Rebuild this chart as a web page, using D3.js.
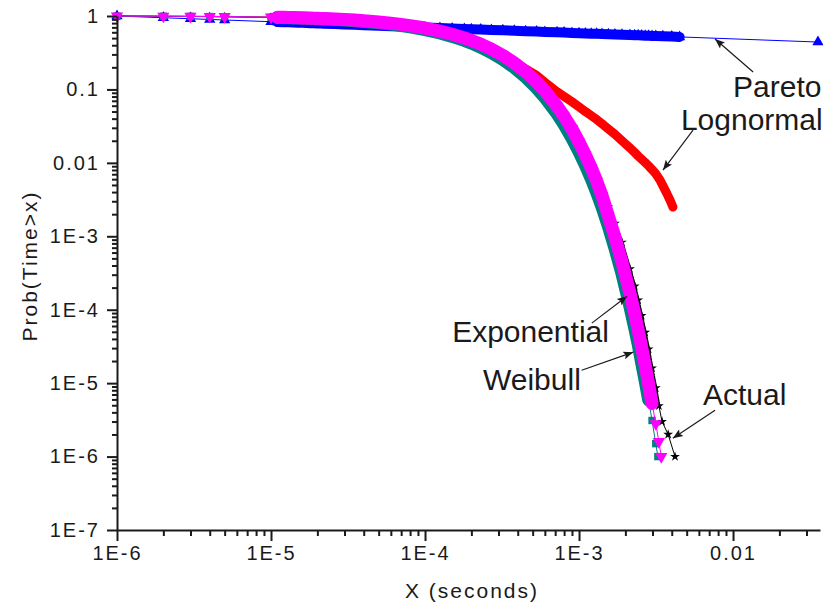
<!DOCTYPE html>
<html><head><meta charset="utf-8">
<script src="https://cdn.jsdelivr.net/npm/d3@7"></script>
<style>
body{margin:0;background:#fff;}
svg{display:block;}
text{font-family:"Liberation Sans",Arial,sans-serif;fill:#1a1a1a;}
</style></head><body>
<svg id="chart" width="823" height="605"></svg>
<script>
// ---------- tick labels ----------
const xTickValues = [1e-6, 1e-5, 1e-4, 1e-3, 1e-2];
const xTickLabels = ["1E-6", "1E-5", "1E-4", "1E-3", "0.01"];
const yTickValues = [1, 0.1, 0.01, 1e-3, 1e-4, 1e-5, 1e-6, 1e-7];
const yTickLabels = ["1", "0.1", "0.01", "1E-3", "1E-4", "1E-5", "1E-6", "1E-7"];

// ---------- data (x in microseconds) ----------
const gridUs = [1,2,3,4,5,10,11,12,13,14,15,16,17,18,19,20,21,22,26,30,35,40,50,60,70,80,
  100,125,150,180,200,230,270,320,380,450,530,600,720,800,900,1000,1100,1200,1300,1410,1550,1710,1900,
  2140,2300,2420,2550,2690,2830,2980,3150];

const lognormalXUs = gridUs.concat([3360,3500,3700,3900,4070]);
const lognormalY = [1.0,0.994,0.99,0.987,0.984,
  0.967,0.963,0.96,0.956,0.953,0.949,0.946,0.942,0.939,0.935,0.932,0.928,0.925,
  0.911,0.897,0.881,0.865,0.833,0.802,0.773,0.744,
  0.69,0.627,0.57,0.508,0.47,0.42,0.362,0.3,0.24,0.19,0.155,0.125,
  0.093,0.08,0.068,0.058,0.05,0.044,0.039,0.034,0.029,0.0245,0.02,
  0.016,0.0138,0.0124,0.0112,0.0101,0.0091,0.0081,0.0071,
  0.0058,0.0049,0.0039,0.0031,0.0025];

const paretoXUs = gridUs.concat([3500,4000,4500,35600]);
const paretoY = [1.0,0.947,0.918,0.898,0.882,
  0.836,0.829,0.824,0.819,0.814,0.81,0.806,0.802,0.798,0.795,0.792,0.789,0.786,
  0.776,0.767,0.758,0.75,0.737,0.727,0.718,0.711,
  0.698,0.686,0.677,0.667,0.661,0.654,0.646,0.638,0.629,0.621,0.613,0.607,
  0.599,0.594,0.588,0.583,0.579,0.575,0.572,0.568,0.564,0.56,0.555,
  0.55,0.547,0.545,0.542,0.54,0.538,0.536,0.533,
  0.529,0.524,0.519,0.442];

const actualXUs = gridUs.concat([3300,3460,3790,4200]);
const actualY = [1.0,0.99,0.985,0.98,0.975,
  0.955,0.951,0.947,0.943,0.939,0.935,0.931,0.927,0.923,0.919,0.915,0.911,0.907,
  0.89,0.874,0.855,0.836,0.8,0.765,0.732,0.7,
  0.64,0.575,0.515,0.452,0.415,0.365,0.307,0.248,0.193,0.143,0.103,0.077,
  0.047,0.034,0.0228,0.0155,0.0106,0.0072,0.0049,0.0036,0.0025,0.0015,8.3e-4,
  3.6e-4,2.1e-4,1.35e-4,8.3e-5,4.9e-5,2.9e-5,1.6e-5,8.6e-6,
  4.9e-6,3e-6,2e-6,1e-6];

const exponentialXUs = gridUs.concat([3250]);
const exponentialY = [0.996,0.992,0.987,0.983,0.979,
  0.958,0.954,0.95,0.946,0.942,0.938,0.934,0.93,0.926,0.922,0.918,0.915,0.911,
  0.895,0.88,0.862,0.844,0.808,0.775,0.742,0.712,
  0.653,0.587,0.528,0.465,0.427,0.376,0.317,0.256,0.199,0.147,0.105,0.078,
  0.0467,0.0332,0.0217,0.0142,0.0093,0.0061,0.004,0.0025,0.00137,0.00069,0.00031,
  0.000111,5.6e-5,3.4e-5,1.9e-5,1.07e-5,5.9e-6,3.1e-6,1.5e-6,
  1.0e-6];

const weibullXUs = gridUs.concat([3300,3420]);
const weibullY = [0.997,0.993,0.99,0.986,0.982,
  0.965,0.961,0.958,0.954,0.951,0.947,0.944,0.94,0.937,0.933,0.93,0.926,0.923,
  0.909,0.895,0.879,0.862,0.83,0.799,0.769,0.74,
  0.686,0.623,0.565,0.503,0.465,0.414,0.354,0.291,0.229,0.174,0.127,0.096,
  0.059,0.043,0.029,0.0192,0.0128,0.0086,0.0057,0.0036,0.0019,0.00098,0.00045,
  0.00017,8.8e-5,5.3e-5,3.1e-5,1.75e-5,9.8e-6,5.3e-6,2.8e-6,
  1.6e-6,1.0e-6];

const seriesNames = ["Lognormal","Pareto","Actual","Exponential","Weibull"];

// annotation anchors in data units
const annotations = [
  {label:"Pareto",      text:[1.0e-2, 0.0788], from:[0.0135, 0.173],  to:[7.64e-3, 0.486]},
  {label:"Lognormal",   text:[4.59e-3, 0.028], from:[5.5e-3, 0.028],  to:[3.51e-3, 7.98e-3]},
  {label:"Exponential", text:[1.5e-4, 3.62e-5], from:[1.21e-3, 6.57e-5], to:[2.05e-3, 1.53e-4]},
  {label:"Weibull",     text:[2.38e-4, 8.03e-6], from:[1.04e-3, 1.5e-5], to:[2.25e-3, 2.64e-5]},
  {label:"Actual",      text:[6.38e-3, 5.0e-6], from:[7.64e-3, 4.28e-6], to:[4.07e-3, 1.78e-6]}
];

// ---------- styles ----------
const styles = {
  Lognormal:   {color:"#ff0000", sym:d3.symbolCircle,   size:45, rot:0,   band:9,  dash:null},
  Pareto:      {color:"#0000ff", sym:d3.symbolTriangle, size:55, rot:0,   band:10, dash:null},
  Actual:      {color:"#000000", sym:d3.symbolStar,     size:30, rot:0,   band:3,  dash:"1.5 1.5"},
  Exponential: {color:"#008080", sym:d3.symbolSquare,   size:55, rot:0,   band:13, dash:null},
  Weibull:     {color:"#ff00ff", sym:d3.symbolTriangle, size:65, rot:180, band:13, dash:null}
};

const dataMap = {
  Lognormal:[lognormalXUs, lognormalY],
  Pareto:[paretoXUs, paretoY],
  Actual:[actualXUs, actualY],
  Exponential:[exponentialXUs, exponentialY],
  Weibull:[weibullXUs, weibullY]
};

// ---------- chart ----------
const svg = d3.select("#chart");
const x = d3.scaleLog().domain([1e-6, 0.0367]).range([117, 820]);
const y = d3.scaleLog().domain([1e-7, 1]).range([530, 16]);

const line = d3.line().x(d => x(d.x)).y(d => y(d.y));

seriesNames.forEach(name => {
  const [xs, ys] = dataMap[name];
  const st = styles[name];
  const pts = xs.map((v, i) => ({x: v * 1e-6, y: ys[i]}));
  const g = svg.append("g");
  const dense = pts.filter(p => p.x >= 1e-5 && p.x <= 4.6e-3 && p.y >= 4e-6);
  g.append("path").datum(dense).attr("d", line)
    .attr("fill", "none").attr("stroke", st.color).attr("stroke-width", st.band)
    .attr("stroke-linejoin", "round").attr("stroke-linecap", "round")
    .attr("stroke-dasharray", st.dash);
  g.append("path").datum(pts).attr("d", line)
    .attr("fill", "none").attr("stroke", st.color).attr("stroke-width", 1);
  g.selectAll("path.m").data(pts).join("path").attr("class", "m")
    .attr("d", d3.symbol().type(st.sym).size(st.size))
    .attr("transform", d => `translate(${x(d.x)},${y(d.y)}) rotate(${st.rot})`)
    .attr("fill", st.color);
});

// axes
const xMinor = [], yMinor = [];
for (let e = -6; e <= -2; e++) for (let k = 2; k <= 9; k++) { const v = k * Math.pow(10, e); if (v <= 0.0367) xMinor.push(v); }
for (let e = -7; e <= -1; e++) for (let k = 2; k <= 9; k++) yMinor.push(k * Math.pow(10, e));

const gx = svg.append("g").attr("transform", "translate(0,530)");
gx.call(d3.axisBottom(x).tickValues(xTickValues).tickFormat((d, i) => xTickLabels[i]).tickSize(11).tickSizeOuter(0).tickPadding(5));
const gxm = svg.append("g").attr("transform", "translate(0,530)");
gxm.call(d3.axisBottom(x).tickValues(xMinor).tickFormat("").tickSize(6).tickSizeOuter(0));
gxm.select(".domain").remove();

const gy = svg.append("g").attr("transform", "translate(117,0)");
gy.call(d3.axisLeft(y).tickValues(yTickValues).tickFormat((d, i) => yTickLabels[i]).tickSize(10).tickSizeOuter(0).tickPadding(7));
const gym = svg.append("g").attr("transform", "translate(117,0)");
gym.call(d3.axisLeft(y).tickValues(yMinor).tickFormat("").tickSize(5).tickSizeOuter(0));
gym.select(".domain").remove();

svg.selectAll(".domain").attr("stroke", "#1a1a1a").attr("stroke-width", 2);
svg.selectAll(".tick line").attr("stroke", "#1a1a1a").attr("stroke-width", 2);
svg.selectAll(".tick text").style("font-size", "20px").style("letter-spacing", "2px").attr("fill", "#1a1a1a");

// titles
svg.append("text").attr("x", 472).attr("y", 598).attr("text-anchor", "middle")
  .style("font-size", "21px").style("letter-spacing", "2px").text("X (seconds)");
svg.append("text").attr("transform", "translate(37,266) rotate(-90)").attr("text-anchor", "middle")
  .style("font-size", "21px").style("letter-spacing", "2px").text("Prob(Time>x)");

// annotations
svg.append("defs").append("marker").attr("id", "arr")
  .attr("viewBox", "0 0 10 8").attr("refX", 10).attr("refY", 4)
  .attr("markerWidth", 11).attr("markerHeight", 8).attr("markerUnits", "userSpaceOnUse")
  .attr("orient", "auto")
  .append("path").attr("d", "M0,0 L10,4 L0,8 L2,4 z").attr("fill", "#1a1a1a");

const ga = svg.append("g");
annotations.forEach(a => {
  ga.append("line")
    .attr("x1", x(a.from[0])).attr("y1", y(a.from[1]))
    .attr("x2", x(a.to[0])).attr("y2", y(a.to[1]))
    .attr("stroke", "#1a1a1a").attr("stroke-width", 1.2).attr("marker-end", "url(#arr)");
  ga.append("text").attr("x", x(a.text[0])).attr("y", y(a.text[1]))
    .style("font-size", "30px").text(a.label);
});
</script>
</body></html>
